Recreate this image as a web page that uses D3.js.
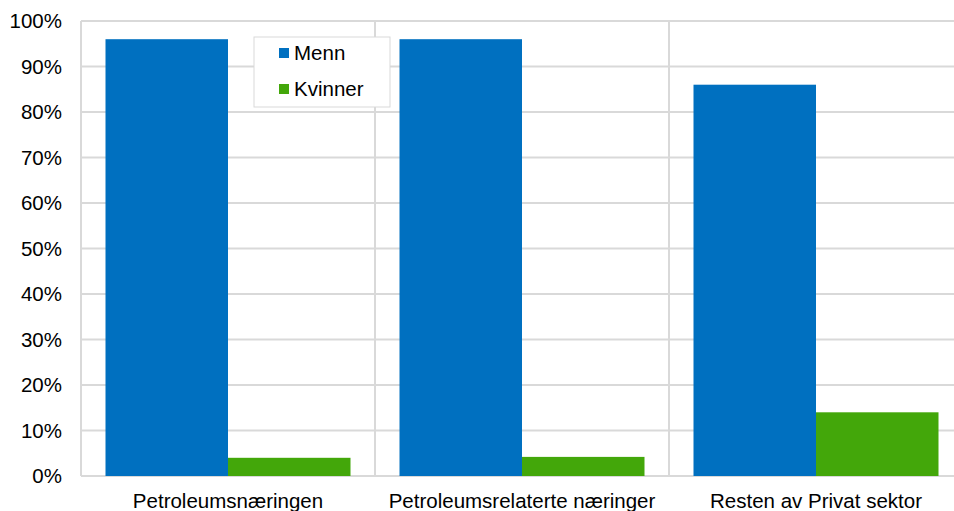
<!DOCTYPE html>
<meta charset="utf-8">
<head>
    <script src="https://d3js.org/d3.v7.min.js"></script>
    <style>
        body { margin: 0; background: #fff; }
        text { font-family: "Liberation Sans", Arial, sans-serif; fill: #000; }
    </style>
</head>
<body>
<div id="graph"></div>
<script>
    // data
    var categories = ["Petroleumsnæringen", "Petroleumsrelaterte næringer", "Resten av Privat sektor"];
    var seriesNames = ["Menn", "Kvinner"];
    var menn = [0.96, 0.96, 0.86];
    var kvinner = [0.04, 0.042, 0.14];
    var yTicks = [0, 0.1, 0.2, 0.3, 0.4, 0.5, 0.6, 0.7, 0.8, 0.9, 1.0];
    var colors = ["#0070C0", "#43A70A"];

    var fontSize = "20.5px";

    var margin = {top: 21, right: -9, bottom: 35, left: 81},
        width = 954 - margin.left - margin.right,
        height = 511 - margin.top - margin.bottom;

    var svg = d3.select("#graph")
      .append("svg")
        .attr("width", 954)
        .attr("height", 511)
      .append("g")
        .attr("transform", "translate(" + margin.left + "," + margin.top + ")");

    var x = d3.scaleBand()
        .domain(categories)
        .range([0, width]);

    var xInner = d3.scaleBand()
        .domain(seriesNames)
        .range([0, x.bandwidth()])
        .paddingOuter(0.2)
        .paddingInner(0);

    var y = d3.scaleLinear()
        .domain([0, 1])
        .range([height, 0]);

    // horizontal grid
    svg.append("g")
        .selectAll("line")
        .data(yTicks)
        .enter()
        .append("line")
        .attr("x1", 0)
        .attr("x2", width)
        .attr("y1", function(d) { return y(d); })
        .attr("y2", function(d) { return y(d); })
        .attr("stroke", "#d9d9d9")
        .attr("stroke-width", 2);

    // vertical separators
    svg.append("g")
        .selectAll("line")
        .data(categories)
        .enter()
        .append("line")
        .attr("x1", function(d) { return x(d); })
        .attr("x2", function(d) { return x(d); })
        .attr("y1", 0)
        .attr("y2", height)
        .attr("stroke", "#d9d9d9")
        .attr("stroke-width", 2);

    // y axis labels
    var yAxis = d3.axisLeft(y)
        .tickValues(yTicks)
        .tickFormat(d3.format(".0%"))
        .tickSize(0)
        .tickPadding(19);
    var gy = svg.append("g").call(yAxis);
    gy.select(".domain").remove();
    gy.selectAll("text")
        .style("font-size", fontSize)
        .style("font-family", "Liberation Sans, Arial, sans-serif");

    // bars
    var rows = categories.map(function(c, i) {
        return {cat: c, values: [menn[i], kvinner[i]]};
    });

    var groups = svg.append("g")
        .selectAll("g")
        .data(rows)
        .enter()
        .append("g")
        .attr("transform", function(d) { return "translate(" + x(d.cat) + ",0)"; });

    groups.selectAll("rect")
        .data(function(d) { return d.values.map(function(v, j) { return {name: seriesNames[j], value: v, idx: j}; }); })
        .enter()
        .append("rect")
        .attr("x", function(d) { return xInner(d.name); })
        .attr("width", xInner.bandwidth())
        .attr("y", function(d) { return y(d.value); })
        .attr("height", function(d) { return height - y(d.value); })
        .attr("fill", function(d) { return colors[d.idx]; });

    // x axis labels
    var xAxis = d3.axisBottom(x).tickSize(0).tickPadding(17);
    var gx = svg.append("g")
        .attr("transform", "translate(0," + height + ")")
        .call(xAxis);
    gx.select(".domain").remove();
    gx.selectAll("text")
        .style("font-size", fontSize)
        .style("font-family", "Liberation Sans, Arial, sans-serif");

    // legend
    var legend = svg.append("g")
        .attr("transform", "translate(" + (254 - margin.left) + "," + (37 - margin.top) + ")");
    legend.append("rect")
        .attr("width", 136)
        .attr("height", 70)
        .attr("fill", "#fff")
        .attr("stroke", "#d9d9d9")
        .attr("stroke-width", 1);
    seriesNames.forEach(function(n, i) {
        legend.append("rect")
            .attr("x", 25)
            .attr("y", 11 + i * 36)
            .attr("width", 10)
            .attr("height", 10)
            .attr("fill", colors[i]);
        legend.append("text")
            .attr("x", 40)
            .attr("y", 16 + i * 36)
            .attr("dy", "0.35em")
            .style("font-size", fontSize)
            .text(n);
    });
</script>
</body>
